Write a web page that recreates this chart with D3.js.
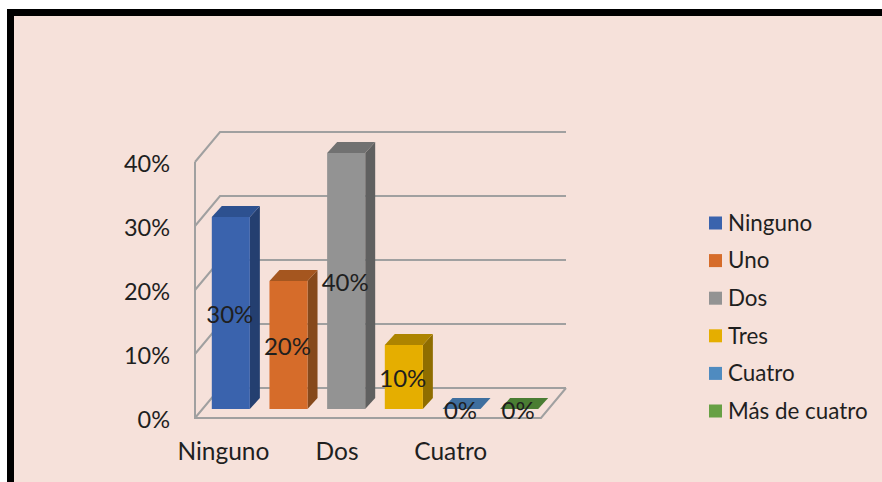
<!DOCTYPE html>
<html>
<head>
<meta charset="utf-8">
<script src="https://cdnjs.cloudflare.com/ajax/libs/d3/7.8.5/d3.min.js"></script>
<style>
body { margin: 0; background: #fff; }
svg { display: block; }
text { font-family: Lato, "Open Sans", sans-serif; fill: #1f1f1f; }
</style>
</head>
<body>
<svg class="chart"></svg>
<script>
categories = ["Ninguno", "Uno", "Dos", "Tres", "Cuatro", "Más de cuatro"];
percentages = [30, 20, 40, 10, 0, 0];
yTicks = [0, 10, 20, 30, 40];
xTickLabels = ["Ninguno", "Dos", "Cuatro"];

FRONT_COLORS = ["#3a63ad", "#d66c2a", "#939393", "#e5ae00", "#4f8bc0", "#67a044"];
TOP_COLORS = ["#2d5190", "#a5561f", "#717171", "#ad8400", "#3f6f9f", "#4a7d33"];
SIDE_COLORS = ["#243f70", "#86491b", "#606060", "#8f6d00", "#335a80", "#3b6429"];
GRID_COLOR = "#a0a0a0";

WIDTH = 882;
HEIGHT = 482;
PLOT_LEFT = 195;
PLOT_RIGHT = 541;
WALL_DX = 25;
WALL_DY = -30;
BAR_DX = 10;
BAR_DY = -11;

svg = d3.select(".chart").attr("width", WIDTH).attr("height", HEIGHT);

// panel with the thick black frame, runs off the right and bottom
svg.append("rect")
    .attr("x", 10.5).attr("y", 12.5)
    .attr("width", WIDTH + 20).attr("height", HEIGHT + 20)
    .attr("fill", "#f6e1da")
    .attr("stroke", "#000")
    .attr("stroke-width", 7);

yFront = d3.scaleLinear().domain([0, 40]).range([418, 162]);
yBar = d3.scaleLinear().domain([0, 40]).range([409, 153]);
xBar = d3.scaleBand().domain(categories).range([202, 548]).paddingInner(0.34).paddingOuter(0.17);
xLabel = d3.scaleBand().domain(categories).range([195, 536]);
yLegend = d3.scalePoint().domain(categories).range([223, 411]);

addWalls();
addBars();
addAxes();
addDataLabels();
addLegend();

function addWalls() {
    walls = svg.append("g")
        .attr("fill", "none")
        .attr("stroke", GRID_COLOR)
        .attr("stroke-width", 2);

    // one bent line per tick: up the side wall then across the back
    walls.selectAll("path.grid")
        .data(yTicks)
        .enter().append("path")
        .attr("class", "grid")
        .attr("d", function(d) {
            return d3.line()([
                [PLOT_LEFT, yFront(d)],
                [PLOT_LEFT + WALL_DX, yFront(d) + WALL_DY],
                [PLOT_RIGHT + WALL_DX, yFront(d) + WALL_DY]
            ]);
        });

    walls.append("path")
        .attr("d", d3.line()([
            [PLOT_LEFT, yFront(40)],
            [PLOT_LEFT, yFront(0)],
            [PLOT_RIGHT, yFront(0)],
            [PLOT_RIGHT + WALL_DX, yFront(0) + WALL_DY]
        ]));
}

function addBars() {
    bars = svg.selectAll("g.bar")
        .data(categories)
        .enter().append("g")
        .attr("class", "bar");

    bars.append("path")
        .attr("fill", function(d, i) { return SIDE_COLORS[i]; })
        .attr("d", function(d, i) {
            x1 = xBar(d) + xBar.bandwidth();
            return d3.line()([
                [x1, yBar(0)],
                [x1 + BAR_DX, yBar(0) + BAR_DY],
                [x1 + BAR_DX, yBar(percentages[i]) + BAR_DY],
                [x1, yBar(percentages[i])]
            ]);
        });

    bars.append("path")
        .attr("fill", function(d, i) { return TOP_COLORS[i]; })
        .attr("d", function(d, i) {
            x0 = xBar(d);
            x1 = x0 + xBar.bandwidth();
            yTop = yBar(percentages[i]);
            return d3.line()([
                [x0, yTop],
                [x0 + BAR_DX, yTop + BAR_DY],
                [x1 + BAR_DX, yTop + BAR_DY],
                [x1, yTop]
            ]);
        });

    bars.append("rect")
        .attr("fill", function(d, i) { return FRONT_COLORS[i]; })
        .attr("x", function(d) { return xBar(d); })
        .attr("y", function(d, i) { return yBar(percentages[i]); })
        .attr("width", xBar.bandwidth())
        .attr("height", function(d, i) { return yBar(0) - yBar(percentages[i]); });
}

function addAxes() {
    yAxis = svg.append("g")
        .attr("transform", "translate(170,2)")
        .call(d3.axisLeft(yFront).tickValues(yTicks).tickSize(0).tickPadding(0)
            .tickFormat(function(d) { return d + "%"; }));
    yAxis.select(".domain").remove();
    yAxis.attr("font-family", null);
    yAxis.selectAll("text").style("font-size", "23.5px").attr("fill", null);

    xAxis = svg.append("g")
        .attr("transform", "translate(0,443)")
        .call(d3.axisBottom(xLabel).tickValues(xTickLabels).tickSize(0).tickPadding(0));
    xAxis.select(".domain").remove();
    xAxis.attr("font-family", null);
    xAxis.selectAll("text").style("font-size", "24.5px").attr("fill", null);
}

function addDataLabels() {
    svg.selectAll("text.value")
        .data(categories)
        .enter().append("text")
        .attr("class", "value")
        .attr("x", function(d) { return xBar(d) + xBar.bandwidth() / 2 - 1; })
        .attr("y", function(d, i) { return yBar(percentages[i] / 2) + 2; })
        .attr("dy", "0.35em")
        .attr("text-anchor", "middle")
        .style("font-size", "24px")
        .text(function(d, i) { return percentages[i] + "%"; });
}

function addLegend() {
    legend = svg.selectAll("g.legend")
        .data(categories)
        .enter().append("g")
        .attr("class", "legend")
        .attr("transform", function(d) { return "translate(709," + yLegend(d) + ")"; });

    legend.append("rect")
        .attr("y", -6.5)
        .attr("width", 13)
        .attr("height", 13)
        .attr("fill", function(d, i) { return FRONT_COLORS[i]; });

    legend.append("text")
        .attr("x", 19)
        .attr("dy", "0.35em")
        .style("font-size", "22.4px")
        .text(function(d) { return d; });
}
</script>
</body>
</html>
